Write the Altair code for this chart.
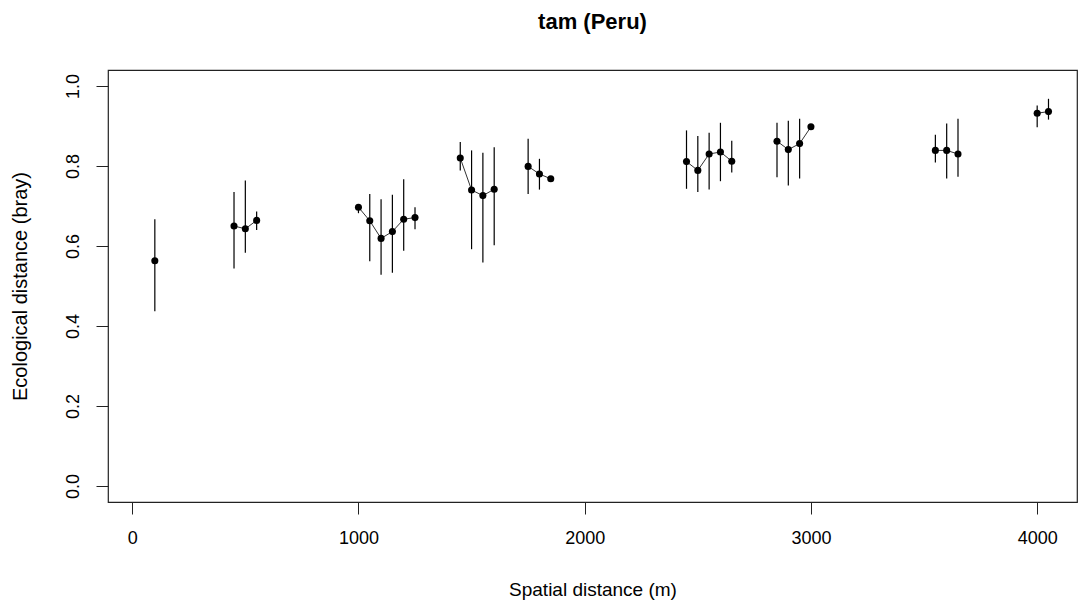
import altair as alt
import pandas as pd

# Spatial distance (m)
x_vals = [100, 450, 500, 550, 1000, 1050, 1100, 1150, 1200, 1250,
          1450, 1500, 1550, 1600, 1750, 1800, 1850,
          2450, 2500, 2550, 2600, 2650, 2850, 2900, 2950, 3000,
          3550, 3600, 3650, 4000, 4050]
# Ecological distance (bray) mean
mean_vals = [0.563, 0.650, 0.643, 0.664, 0.697, 0.663, 0.619, 0.636, 0.667, 0.671,
             0.820, 0.740, 0.726, 0.742, 0.799, 0.780, 0.768,
             0.811, 0.789, 0.830, 0.835, 0.812, 0.862, 0.841, 0.856, 0.898,
             0.839, 0.839, 0.830, 0.932, 0.936]
lo_vals = [0.437, 0.544, 0.583, 0.640, 0.682, 0.562, 0.528, 0.533, 0.588, 0.642,
           0.789, 0.592, 0.559, 0.602, 0.730, 0.741, 0.763,
           0.743, 0.735, 0.741, 0.762, 0.784, 0.772, 0.751, 0.769, 0.895,
           0.809, 0.769, 0.773, 0.897, 0.916]
hi_vals = [0.667, 0.735, 0.764, 0.686, 0.705, 0.730, 0.717, 0.728, 0.767, 0.697,
           0.860, 0.839, 0.833, 0.847, 0.868, 0.818, 0.772,
           0.889, 0.875, 0.883, 0.908, 0.863, 0.908, 0.913, 0.918, 0.901,
           0.878, 0.906, 0.918, 0.951, 0.968]
group_vals = [1, 2, 2, 2, 3, 3, 3, 3, 3, 3,
              4, 4, 4, 4, 5, 5, 5,
              6, 6, 6, 6, 6, 7, 7, 7, 7,
              8, 8, 8, 9, 9]
x_ticks = [0, 1000, 2000, 3000, 4000]
y_ticks = [0.0, 0.2, 0.4, 0.6, 0.8, 1.0]

df = pd.DataFrame({"x": x_vals, "m": mean_vals, "lo": lo_vals, "hi": hi_vals, "g": group_vals})

FONT = "Liberation Sans"

xs = alt.Scale(domain=[-107, 4176], nice=False, zero=False)
ys = alt.Scale(domain=[-0.04, 1.04], nice=False, zero=False)

xax = alt.Axis(values=x_ticks, format="d", title="Spatial distance (m)", grid=False, domain=False,
               tickSize=12, tickColor="#222", labelFontSize=18, labelFont=FONT,
               labelColor="black", labelPadding=15, titleFontSize=19, titleFont=FONT,
               titleFontWeight="normal", titleColor="black", titlePadding=33,
               labelFlush=False)
yax = alt.Axis(values=y_ticks, format=".1f", title="Ecological distance (bray)", grid=False,
               domain=False, tickSize=12, tickColor="#222", labelFontSize=18, labelFont=FONT,
               labelColor="black", labelAngle=270, labelAlign="center", labelBaseline="bottom",
               labelPadding=14, titleFontSize=20, titleFont=FONT, titleFontWeight="normal",
               titleColor="black", titlePadding=34, labelFlush=False)

base = alt.Chart(df)

bars = base.mark_rule(color="black", strokeWidth=1.2).encode(
    x=alt.X("x:Q", scale=xs, axis=xax),
    y=alt.Y("lo:Q", scale=ys, axis=yax),
    y2="hi:Q",
)
lines = base.mark_line(color="#333", strokeWidth=1).encode(
    x=alt.X("x:Q", scale=xs),
    y=alt.Y("m:Q", scale=ys),
    detail="g:N",
)
pts = base.mark_circle(color="black", opacity=1, size=50).encode(
    x=alt.X("x:Q", scale=xs),
    y=alt.Y("m:Q", scale=ys),
)

chart = alt.layer(bars, lines, pts).properties(
    width=969,
    height=432,
    autosize=alt.AutoSizeParams(type="none"),
    padding={"left": 108, "top": 70, "right": 2, "bottom": 105},
    title=alt.TitleParams("tam (Peru)", fontSize=22, fontWeight="bold", font=FONT,
                          color="black", anchor="middle", offset=36),
).configure(background="white").configure_view(stroke="#222", strokeWidth=1.2)

chart.save("out.html", embed_options={"renderer": "svg", "actions": False})
